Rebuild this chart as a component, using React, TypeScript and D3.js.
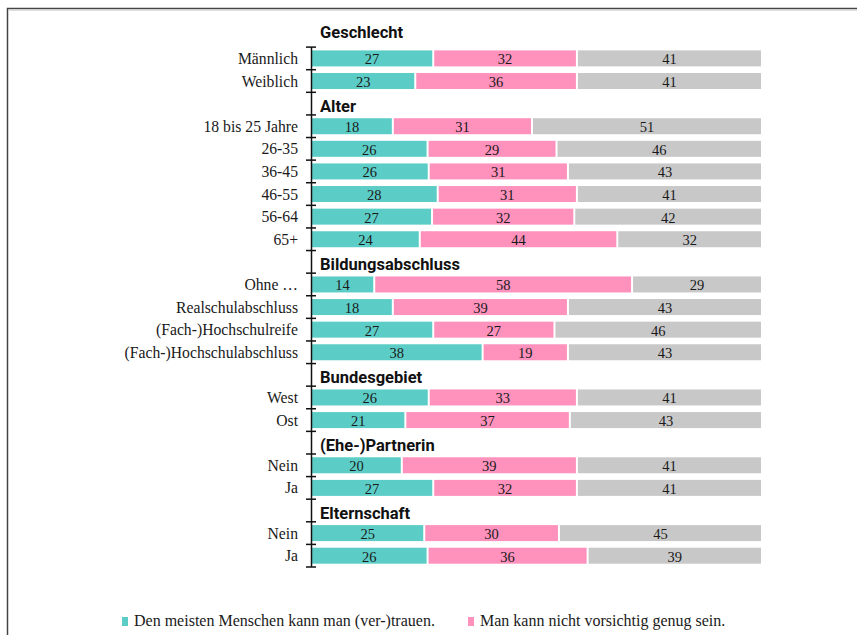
import { useEffect, useRef } from "react";
import * as d3 from "d3";

// Gruppen und Kategorien
const groupNames = ["Geschlecht", "Alter", "Bildungsabschluss", "Bundesgebiet", "(Ehe-)Partnerin", "Elternschaft"];
const groupSizes = [2, 6, 4, 2, 2, 2];
const categories = [
  "Männlich", "Weiblich",
  "18 bis 25 Jahre", "26-35", "36-45", "46-55", "56-64", "65+",
  "Ohne …", "Realschulabschluss", "(Fach-)Hochschulreife", "(Fach-)Hochschulabschluss",
  "West", "Ost",
  "Nein", "Ja",
  "Nein", "Ja",
];

// Werte in Prozent
const trustValues = [27, 23, 18, 26, 26, 28, 27, 24, 14, 18, 27, 38, 26, 21, 20, 27, 25, 26];
const carefulValues = [32, 36, 31, 29, 31, 31, 32, 44, 58, 39, 27, 19, 33, 37, 39, 32, 30, 36];
const otherValues = [41, 41, 51, 46, 43, 41, 42, 32, 29, 43, 46, 43, 41, 43, 41, 41, 45, 39];

const seriesNames = ["Den meisten Menschen kann man (ver-)trauen.", "Man kann nicht vorsichtig genug sein."];
const colors = ["#5ccdc6", "#ff91bd", "#c8c8c8"];

const WIDTH = 857;
const HEIGHT = 635;
const SERIF = "'Liberation Serif', 'Times New Roman', serif";
const SANS = "Roboto, 'Liberation Sans', sans-serif";

export default function App() {
  const ref = useRef<SVGSVGElement>(null);

  useEffect(() => {
    const svg = d3.select(ref.current);
    svg.selectAll("*").remove();

    // Zeilen inkl. Überschriften aufbauen
    const rows: { key: string; type: string; label: string; idx: number }[] = [];
    let k = 0;
    groupNames.forEach((g, gi) => {
      rows.push({ key: "h" + gi, type: "header", label: g, idx: -1 });
      for (let j = 0; j < groupSizes[gi]; j++) {
        rows.push({ key: "r" + k, type: "row", label: categories[k], idx: k });
        k++;
      }
    });

    const y = d3.scaleBand().domain(rows.map((r) => r.key)).range([24.5, 567]).padding(0);
    const x = d3.scaleLinear().domain([0, 100]).range([312, 761]);
    const bw = y.bandwidth();
    const barH = 16;

    // Rahmen
    svg.append("rect")
      .attr("x", 7.5).attr("y", 8.5)
      .attr("width", WIDTH + 20).attr("height", HEIGHT + 20)
      .attr("fill", "none").attr("stroke", "#444").attr("stroke-width", 1.5);
    svg.append("line")
      .attr("x1", 8).attr("x2", WIDTH).attr("y1", 10.5).attr("y2", 10.5)
      .attr("stroke", "#ddd").attr("stroke-width", 1);

    const g = svg.append("g");

    rows.forEach((r, ri) => {
      const y0 = y(r.key)!;
      if (r.type === "header") {
        g.append("text")
          .text(r.label)
          .attr("x", 320)
          .attr("y", ri === 0 ? y0 + bw - 9 : y0 + bw - 3)
          .attr("font-family", SANS)
          .attr("font-weight", "bold")
          .attr("font-size", 16.5)
          .attr("fill", "#111");
        return;
      }
      const vals = [trustValues[r.idx], carefulValues[r.idx], otherValues[r.idx]];
      const total = d3.sum(vals);
      let cum = 0;
      vals.forEach((v, si) => {
        const a = x((cum / total) * 100);
        const b = x(((cum + v) / total) * 100);
        cum += v;
        const x0 = si === 0 ? a : a + 1;
        const x1 = si === 2 ? b : b - 1;
        g.append("rect")
          .attr("x", x0)
          .attr("y", y0 + (bw - barH) / 2)
          .attr("width", x1 - x0)
          .attr("height", barH)
          .attr("fill", colors[si]);
        g.append("text")
          .text(v)
          .attr("x", (x0 + x1) / 2)
          .attr("y", y0 + bw / 2 + 1)
          .attr("text-anchor", "middle")
          .attr("dominant-baseline", "central")
          .attr("font-family", SERIF)
          .attr("font-size", 14.5)
          .attr("fill", "#1a1a1a");
      });
      g.append("text")
        .text(r.label)
        .attr("x", 298)
        .attr("y", y0 + bw / 2)
        .attr("text-anchor", "end")
        .attr("dominant-baseline", "central")
        .attr("font-family", SERIF)
        .attr("font-size", 15.7)
        .attr("fill", "#1a1a1a");
    });

    // Achse mit Ticks an den Bandgrenzen
    const axisTop = y(rows[1].key)!;
    const axisBottom = 567;
    g.append("line")
      .attr("x1", 311.5).attr("x2", 311.5)
      .attr("y1", axisTop).attr("y2", axisBottom)
      .attr("stroke", "#111").attr("stroke-width", 1.5);
    const tickYs = rows.slice(1).map((r) => y(r.key)!).concat([axisBottom]);
    g.selectAll(".tick")
      .data(tickYs)
      .join("line")
      .attr("x1", 306).attr("x2", 316)
      .attr("y1", (d) => d).attr("y2", (d) => d)
      .attr("stroke", "#111").attr("stroke-width", 1.5);

    // Legende
    const legendX = [122, 468];
    seriesNames.forEach((s, i) => {
      svg.append("rect")
        .attr("x", legendX[i]).attr("y", 617)
        .attr("width", 6).attr("height", 9)
        .attr("fill", colors[i]);
      svg.append("text")
        .text(s)
        .attr("x", legendX[i] + 12).attr("y", 626)
        .attr("font-family", SERIF)
        .attr("font-size", 16)
        .attr("fill", "#1a1a1a");
    });
  }, []);

  return (
    <svg
      ref={ref}
      width={WIDTH}
      height={HEIGHT}
      style={{ position: "absolute", left: 0, top: 0, background: "#fff" }}
    />
  );
}
